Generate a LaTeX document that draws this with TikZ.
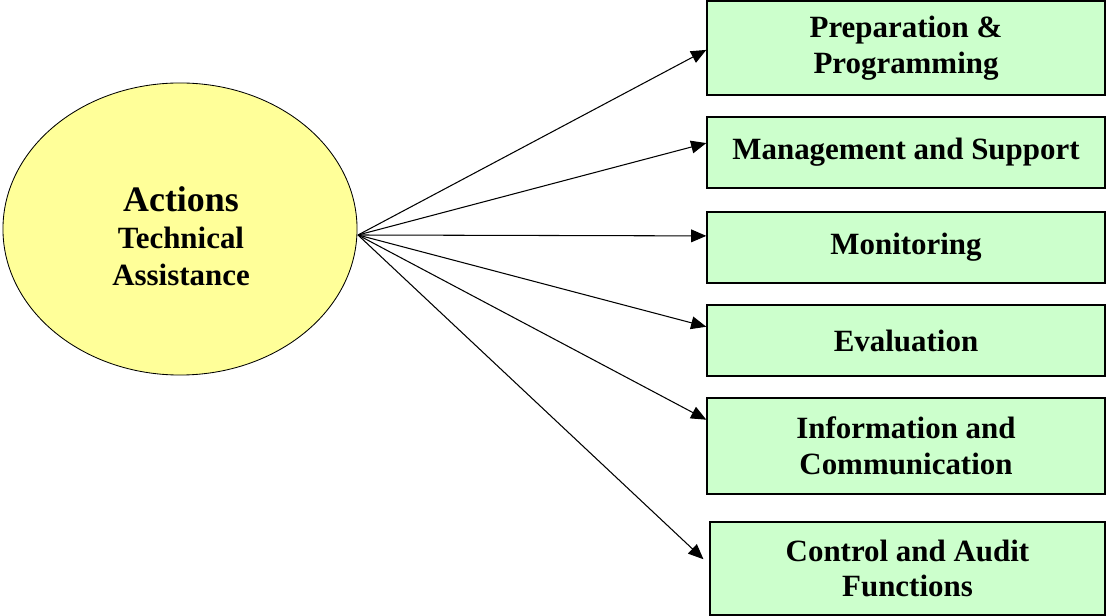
\documentclass[tikz,border=0pt]{standalone}
\usepackage{fontspec}
\setmainfont{Liberation Serif}
\usetikzlibrary{shapes.geometric,arrows.meta,calc}
\definecolor{boxgreen}{HTML}{CCFFCC}
\definecolor{hubyellow}{HTML}{FFFF99}
\tikzset{
  task/.style={draw, line width=1pt, fill=boxgreen, align=center, inner sep=0pt,
    font=\bfseries\fontsize{22}{25.5}\selectfont},
  link/.style={-{Triangle[length=0.38cm,width=0.32cm]}, line width=0.75pt}
}
\begin{document}
\begin{tikzpicture}[x=0.025cm,y=-0.025cm]
\useasboundingbox (0,0) rectangle (1106,616);

\node[draw, ellipse, fill=hubyellow, line width=0.6pt, minimum width=8.85cm, minimum height=7.3cm,
  inner sep=0pt] (hub) at (180,229) {};
\node[align=center, font=\bfseries\fontsize{22}{26.5}\selectfont] (hubtext) at (181,236)
  {{\fontsize{25.5}{26.5}\selectfont Actions}\\Technical\\Assistance};
\coordinate (src) at (358,235);

\foreach \n/\x/\y/\w/\h/\t in {prep/906/48/398/94/{Preparation \&\\Programming},
    mgmt/906/152.5/398/71/{Management and Support},
    mon/906/247.5/398/71/{Monitoring},
    eval/906/340.5/398/71/{Evaluation},
    info/906/446/398/96/{Information and\\Communication},
    ctrl/907.5/568.5/395/93/{Control and Audit\\Functions}}
  \node[task, minimum width=\w*0.025cm, minimum height=\h*0.025cm] (\n) at (\x,\y) {\t};

\foreach \n/\f/\s in {prep/0.52/0pt, mgmt/0.37/0pt, mon/0.34/0pt, eval/0.31/0pt, info/0.23/0pt, ctrl/0.46/0.2cm}
  \draw[link, shorten >=\s] (src) -- ($(\n.north west)!\f!(\n.south west)$);
\end{tikzpicture}
\end{document}
